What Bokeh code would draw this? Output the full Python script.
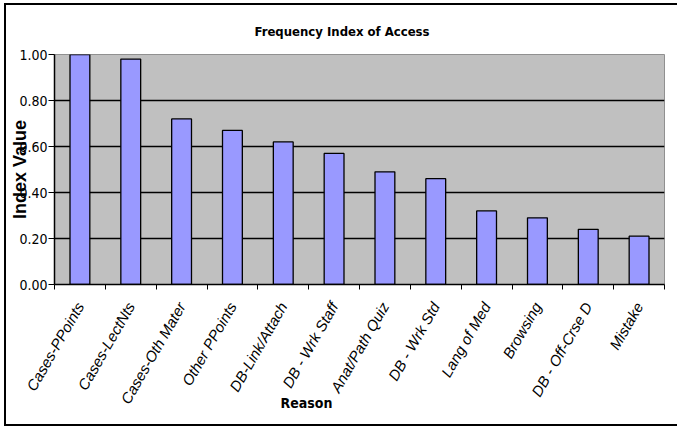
from bokeh.plotting import figure
from bokeh.models import Range1d, FixedTicker, NumeralTickFormatter, Title, ColumnDataSource
from bokeh.embed import file_html
from bokeh.resources import INLINE
import math

categories = ["Cases-PPoints", "Cases-LectNts", "Cases-Oth Mater", "Other PPoints",
              "DB-Link/Attach", "DB - Wrk Staff", "Anat/Path Quiz", "DB - Wrk Std",
              "Lang of Med", "Browsing", "DB - Off-Crse D", "Mistake"]
values = [1.00, 0.98, 0.72, 0.67, 0.62, 0.57, 0.49, 0.46, 0.32, 0.29, 0.24, 0.21]
y_ticks = [0.0, 0.2, 0.4, 0.6, 0.8, 1.0]

centers = [i + 0.5 for i in range(len(categories))]
bounds = [float(i) for i in range(len(categories) + 1)]

NARROW = "DejaVu Sans Condensed"

p = figure(width=673, height=423, output_backend="svg", toolbar_location=None,
           x_range=Range1d(0, len(categories)), y_range=Range1d(0, 1.0),
           min_border_left=48, min_border_right=15, min_border_top=49, min_border_bottom=144)

p.background_fill_color = "#C0C0C0"
p.border_fill_color = "white"
p.outline_line_color = "#909090"
p.outline_line_width = 1

p.title.text = "Frequency Index of Access"
p.title.align = "left"
p.title.text_font = NARROW
p.title.text_font_style = "bold"
p.title.text_font_size = "13px"
p.title.text_color = "black"
p.title.offset = 200
p.title.standoff = 31

src = ColumnDataSource(dict(x=centers, top=values, name=categories))
p.vbar(x="x", top="top", width=0.39, source=src, fill_color="#9999FF",
       line_color="black", line_width=1.3)

# x axis
xa = p.xaxis[0]
xa.ticker = FixedTicker(ticks=centers, minor_ticks=bounds)
xa.major_label_overrides = {c: n for c, n in zip(centers, categories)}
xa.major_label_orientation = math.pi / 3
xa.major_label_text_font = "Liberation Sans"
xa.major_label_text_font_style = "italic"
xa.major_label_text_font_size = "15px"
xa.major_label_text_color = "black"
xa.major_tick_out = 0
xa.major_tick_in = 0
xa.minor_tick_out = 5
xa.minor_tick_in = 0
xa.minor_tick_line_color = "black"
xa.axis_line_color = "black"
xa.axis_line_width = 1.5
xa.major_label_standoff = 14

# y axis
ya = p.yaxis[0]
ya.ticker = FixedTicker(ticks=y_ticks)
ya.formatter = NumeralTickFormatter(format="0.00")
ya.major_label_text_font = NARROW
ya.major_label_text_font_size = "14px"
ya.major_label_text_color = "black"
ya.major_tick_out = 6
ya.major_tick_in = 0
ya.major_tick_line_color = "black"
ya.minor_tick_out = 0
ya.minor_tick_in = 0
ya.axis_line_color = "black"
ya.axis_line_width = 1.5
ya.major_label_standoff = 1
ya.axis_label = "Index Value"
ya.axis_label_text_font = "Liberation Sans"
ya.axis_label_text_font_style = "bold"
ya.axis_label_text_font_size = "18px"
ya.axis_label_text_color = "black"
ya.axis_label_standoff = -14

reason = Title(text="Reason", align="left", vertical_align="top", offset=226, standoff=-38,
               text_font=NARROW, text_font_style="bold", text_font_size="14px",
               text_color="black")
p.add_layout(reason, "below")

p.xgrid.visible = False
p.ygrid.ticker = FixedTicker(ticks=y_ticks)
p.ygrid.grid_line_color = "black"
p.ygrid.grid_line_width = 1.5

p.styles = {"margin-left": "4px", "margin-top": "3px",
            "border-top": "2px solid black", "border-left": "2px solid black",
            "border-bottom": "2px solid black"}

open("out.html", "w").write(file_html(p, INLINE))
